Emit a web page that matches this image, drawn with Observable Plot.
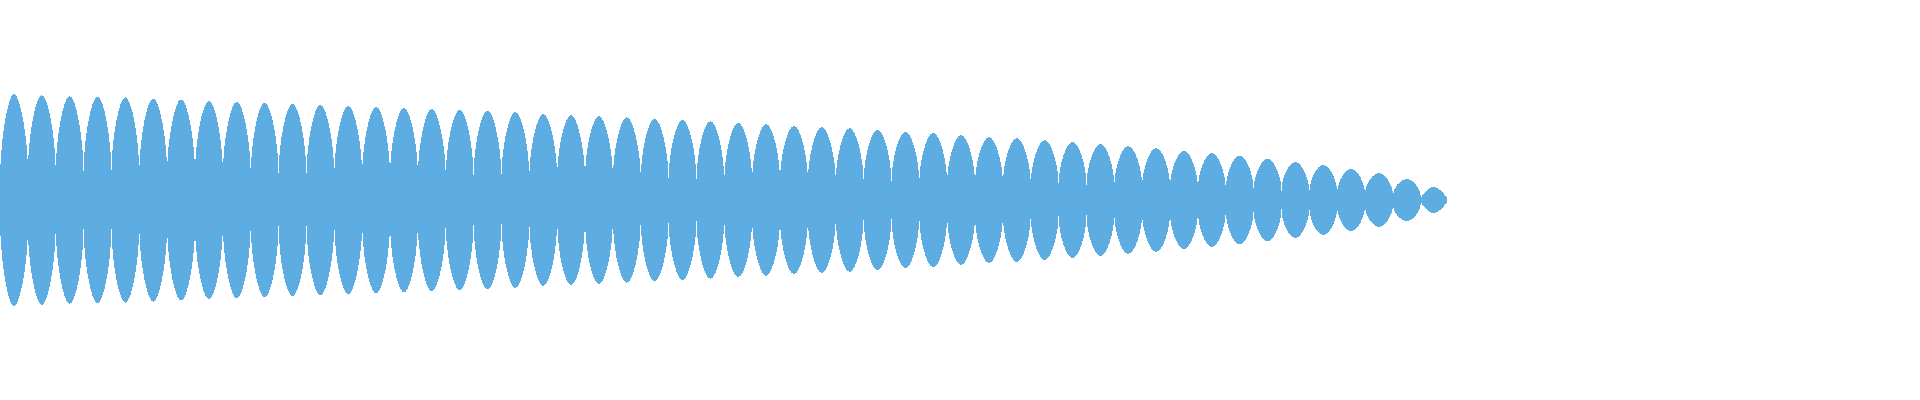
<!DOCTYPE html>
<html>
<head>
<meta charset="utf-8">
<script src="https://cdn.jsdelivr.net/npm/d3@7"></script>
<script src="https://cdn.jsdelivr.net/npm/@observablehq/plot@0.6"></script>
<style>
  html, body { margin: 0; padding: 0; background: #ffffff; }
  #chart { width: 1920px; height: 400px; }
</style>
</head>
<body>
<div id="chart"></div>
<script>
// Half-height of each lobe at its crest (lobe k is centred at x = k + 0.5)
const peaks = [
  106, 105, 104, 103.3, 102.7, 101.7, 100.7, 99.3, 98.3, 97.3,
  96.3, 95.3, 94.3, 93.3, 92.3, 91.3, 90.3, 89.3, 88, 86,
  85, 84, 82.7, 81.3, 80.3, 79, 77.3, 76, 74.3, 73,
  72, 70.3, 68.3, 67.3, 65, 63, 62, 60, 58, 56,
  54, 52, 49.3, 47, 44.3, 41.3, 38, 35, 31, 27,
  21, 13.3
];
// Half-height of the neck between lobes (neck k is at x = k)
const troughs = [
  17.5, 27, 26.7, 26.5, 26.3, 26, 25.8, 25.5, 25.2, 24.5,
  24.5, 24.3, 24, 23.7, 23.5, 23.2, 23, 22.8, 22.5, 22.2,
  22, 21.7, 21.3, 20.8, 19.5, 19.2, 19, 18.8, 18.6, 18.3,
  18, 17.6, 17.2, 17, 16.7, 16.2, 15.8, 15.4, 15, 14.5,
  14, 13.3, 12.5, 11, 10.7, 10, 9, 7.5, 7, 6,
  4.5, 2.5
];
// The tail of the last lobe
const tailX = [51, 51.45, 51.93];
const tailV = [2.5, 13.3, 3];

const xDomain = [0, 68.92];
const yDomain = [-200, 200];

// Main body: neck, crest, neck, crest, ... ending on neck 51
const body = [];
for (let k = 0; k < troughs.length; k++) {
  body.push({x: k, v: troughs[k]});
  if (k < troughs.length - 1) body.push({x: k + 0.5, v: peaks[k]});
}
const tail = tailX.map((x, i) => ({x, v: tailV[i]}));

// Curve: vertical tangent at necks, horizontal tangent at crests
const K = 0.45;
function LobeCurve(context) { this._context = context; }
LobeCurve.prototype = {
  areaStart() { this._line = 0; },
  areaEnd() { this._line = NaN; },
  lineStart() { this._point = 0; },
  lineEnd() {
    if (this._line || (this._line !== 0 && this._point === 1)) this._context.closePath();
    this._line = 1 - this._line;
  },
  point(x, y) {
    x = +x; y = +y;
    const c = this._context;
    if (this._point === 0) {
      this._line ? c.lineTo(x, y) : c.moveTo(x, y);
    } else {
      const x0 = this._x0, y0 = this._y0;
      if (this._point % 2 === 1) {
        // neck -> crest
        c.bezierCurveTo(x0, y0 + K * (y - y0), x - K * (x - x0), y, x, y);
      } else {
        // crest -> neck
        c.bezierCurveTo(x0 + K * (x - x0), y0, x, y - K * (y - y0), x, y);
      }
    }
    this._point++;
    this._x0 = x; this._y0 = y;
  }
};
const lobeCurve = (context) => new LobeCurve(context);

const fill = "#5dade2";

const chart = Plot.plot({
  width: 1920,
  height: 400,
  margin: 0,
  x: {domain: xDomain, axis: null},
  y: {domain: yDomain, axis: null},
  style: {background: "#ffffff"},
  marks: [
    Plot.areaY(body, {x: "x", y1: d => -d.v, y2: "v", fill, curve: lobeCurve, shapeRendering: "crispEdges"}),
    Plot.areaY(tail, {x: "x", y1: d => -d.v, y2: "v", fill, curve: "natural", shapeRendering: "crispEdges"})
  ]
});
document.getElementById("chart").appendChild(chart);
</script>
</body>
</html>
